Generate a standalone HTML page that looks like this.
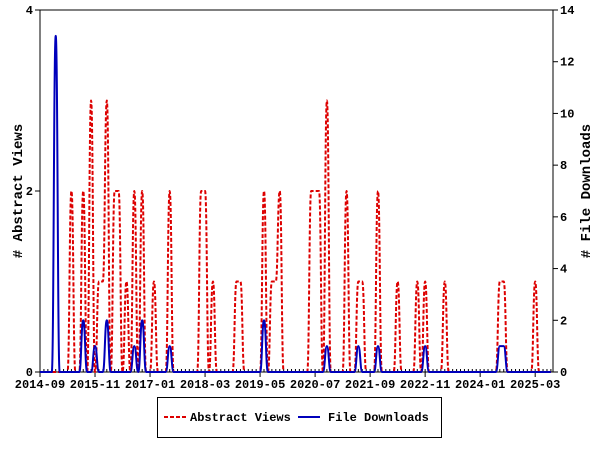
<!DOCTYPE html>
<html><head><meta charset="utf-8"><style>
html,body{margin:0;padding:0;background:#fff;width:600px;height:450px;overflow:hidden}
svg{display:block}
text{font-family:"Liberation Mono","DejaVu Sans Mono",monospace;font-weight:bold;font-size:12px;fill:#000}
</style></head><body>
<svg id="s" width="600" height="450" viewBox="0 0 600 450">
<rect x="40" y="10" width="513" height="362" fill="#fff" stroke="#000" stroke-width="1"/>
<g id="ax"></g>
<path id="red" fill="none" stroke="#dd0000" stroke-width="2" stroke-dasharray="4,2"/>
<path id="blue" fill="none" stroke="#0000bb" stroke-width="2"/>
<text x="22" y="191" text-anchor="middle" transform="rotate(-90 22 191)" style="font-size:14px"># Abstract Views</text>
<text x="590" y="191" text-anchor="middle" transform="rotate(-90 590 191)" style="font-size:14px"># File Downloads</text>
<rect x="157.5" y="397.5" width="284" height="40" fill="#fff" stroke="#000"/>
<line x1="164" y1="417" x2="186" y2="417" stroke="#dd0000" stroke-width="2" stroke-dasharray="4,2"/>
<text x="190" y="421">Abstract Views</text>
<line x1="298" y1="417" x2="320" y2="417" stroke="#0000bb" stroke-width="2"/>
<text x="328" y="421">File Downloads</text>
</svg>
<script>
var N=131,x0=40,dx=3.93,yb=372;
function X(m){return x0+m*dx}
var ax=document.getElementById('ax'),h='';
[[0,'0'],[2,'2'],[4,'4']].forEach(function(t){var y=yb-t[0]*90.5;h+='<line x1="35" y1="'+y+'" x2="40" y2="'+y+'" stroke="#000"/><text x="33" y="'+(y+4)+'" text-anchor="end">'+t[1]+'</text>';});
for(var v=0;v<=14;v+=2){var y=yb-v*25.857;h+='<line x1="553" y1="'+y+'" x2="558" y2="'+y+'" stroke="#000"/><text x="560" y="'+(y+4)+'">'+v+'</text>';}
for(var m=0;m<N;m++){h+='<line x1="'+X(m)+'" y1="369" x2="'+X(m)+'" y2="372" stroke="#000"/>';}
var labs=['2014-09','2015-11','2017-01','2018-03','2019-05','2020-07','2021-09','2022-11','2024-01','2025-03'];
labs.forEach(function(l,i){var x=X(i*14);h+='<line x1="'+x+'" y1="372" x2="'+x+'" y2="377" stroke="#000"/><text x="'+x+'" y="388" text-anchor="middle">'+l+'</text>';});
ax.innerHTML=h;
var r=new Array(N).fill(0),b=new Array(N).fill(0);
var rv={8:2,11:2,13:3,15:1,16:1,17:3,19:2,20:2,22:1,24:2,26:2,29:1,33:2,41:2,42:2,44:1,50:1,51:1,57:2,59:1,60:1,61:2,69:2,70:2,71:2,73:3,78:2,81:1,82:1,86:2,91:1,96:1,98:1,103:1,117:1,118:1,126:1};
for(var k in rv)r[k]=rv[k];
var bv={4:13,11:2,14:1,17:2,24:1,26:2,33:1,57:2,73:1,81:1,86:1,98:1,117:1,118:1};
for(var k in bv)b[k]=bv[k];
function path(a,s){var d='M'+X(0)+','+(yb-a[0]*s);for(var m=1;m<N;m++){var xa=X(m-1),xb=X(m),ya=yb-a[m-1]*s,yb2=yb-a[m]*s,c=(xb-xa)/2;d+='C'+(xa+c).toFixed(2)+','+ya.toFixed(1)+' '+(xb-c).toFixed(2)+','+yb2.toFixed(1)+' '+xb.toFixed(2)+','+yb2.toFixed(1);}return d;}
document.getElementById('red').setAttribute('d',path(r,90.5));
document.getElementById('blue').setAttribute('d',path(b,25.857));
</script>
</body></html>
